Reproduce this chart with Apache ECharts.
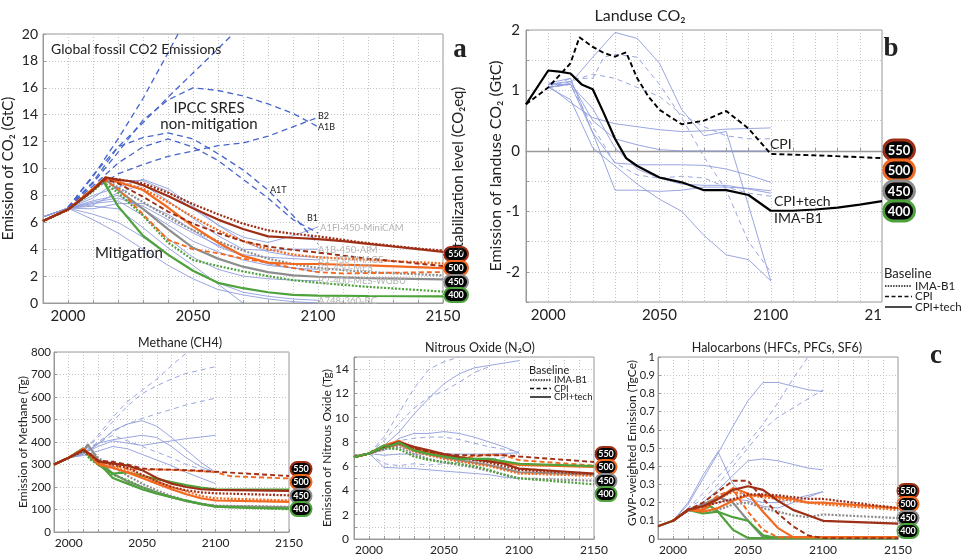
<!DOCTYPE html>
<html><head><meta charset="utf-8">
<script src="https://cdn.jsdelivr.net/npm/echarts@6/dist/echarts.min.js"></script>
<style>html,body{margin:0;padding:0;background:#fff}#c{width:961px;height:556px}</style>
</head><body><div id="c"></div>
<script>
// ---------- tick labels ----------
const xTickLabels = [2000, 2050, 2100, 2150];
const bYTickLabels = [-2, -1, 0, 1, 2];
const nYTickLabels = [0, 2, 4, 6, 8, 10, 12, 14];
const stabLevels = ['550', '500', '450', '400'];
const legendNames = ['IMA-B1', 'CPI', 'CPI+tech'];

// ---------- panel a: fossil CO2 (GtC) ----------
const aA1FI = [[2000,7.1],[2010,9.4],[2020,12.2],[2030,15.2],[2040,18.6],[2044,20]];
const aA2 = [[2000,7.1],[2010,9.0],[2020,11.6],[2030,13.4],[2040,15.3],[2050,17.1],[2060,18.9],[2066,20]];
const aA1B = [[2000,7.1],[2010,8.9],[2020,11.2],[2030,13.6],[2040,15.1],[2050,16.0],[2060,15.8],[2070,15.4],[2080,14.8],[2090,14.1],[2100,13.1]];
const aB2 = [[2000,7.1],[2010,8.4],[2020,9.6],[2030,10.3],[2040,10.9],[2050,11.3],[2060,11.7],[2070,11.9],[2080,12.4],[2090,13.1],[2100,13.8]];
const aA1T = [[2000,7.1],[2010,9.5],[2020,11.6],[2030,12.3],[2040,12.65],[2050,12.2],[2060,11.1],[2070,9.9],[2080,8.4],[2090,6.5],[2100,4.4]];
const aB1 = [[2000,7.1],[2010,8.7],[2020,10.4],[2030,11.6],[2040,12.2],[2050,11.6],[2060,10.6],[2070,9.2],[2080,7.8],[2090,6.2],[2100,5.2]];
const aM1 = [[1990,6.4],[2000,7.05],[2010,7.8],[2020,9.1],[2030,9.1],[2040,8.3],[2050,7.0],[2060,5.8],[2070,4.9],[2080,4.5],[2090,5.0],[2100,5.65]];
const aM2 = [[1990,6.4],[2000,7.05],[2010,7.3],[2020,8.2],[2030,8.8],[2040,7.6],[2050,6.3],[2060,5.0],[2070,4.0],[2080,3.9],[2090,4.0],[2100,4.0]];
const aM3 = [[1990,6.4],[2000,7.05],[2010,7.5],[2020,7.8],[2030,7.2],[2040,6.2],[2050,5.2],[2060,4.3],[2070,3.6],[2080,3.4],[2090,3.3],[2100,3.2]];
const aM4 = [[1990,6.4],[2000,7.05],[2010,7.6],[2020,8.0],[2030,7.0],[2040,5.8],[2050,4.6],[2060,3.8],[2070,3.2],[2080,2.8],[2090,2.6],[2100,2.5]];
const aM5 = [[1990,6.4],[2000,7.05],[2010,7.4],[2020,7.6],[2030,6.5],[2040,4.8],[2050,3.4],[2060,2.5],[2070,2.0],[2080,1.8],[2090,1.7],[2100,1.65]];
const aM6 = [[1990,6.4],[2000,7.05],[2010,6.2],[2020,5.2],[2030,4.0],[2040,2.8],[2050,1.8],[2060,1.0],[2070,0.6],[2080,0.3],[2090,0.1],[2100,0.0]];
const aM7 = [[1990,6.4],[2000,7.05],[2010,7.2],[2020,7.0],[2030,5.6],[2040,4.1],[2050,2.8],[2060,1.4],[2070,0.0]];
const aM8 = [[1990,6.4],[2000,7.05],[2010,6.6],[2020,6.0],[2030,4.9],[2040,3.6],[2050,2.4],[2060,1.5],[2070,0.8],[2080,0.5],[2090,0.3],[2100,0.2]];
const aM9 = [[1990,6.4],[2000,7.05],[2010,8.0],[2020,8.6],[2030,9.2],[2040,8.5],[2050,7.2],[2060,5.8],[2070,4.6],[2080,3.8],[2090,3.5],[2100,3.4]];
const aM10 = [[1990,6.4],[2000,7.05],[2010,7.0],[2020,7.4],[2030,7.4],[2040,6.6],[2050,5.4],[2060,4.2],[2070,3.5],[2080,2.9],[2090,2.6],[2100,2.3]];
const a550s = [[1990,6.1],[2000,6.95],[2010,8.4],[2015,9.35],[2020,9.15],[2025,9.05],[2030,8.75],[2040,7.95],[2050,7.05],[2060,6.2],[2070,5.5],[2080,4.95],[2090,4.85],[2100,4.75],[2110,4.6],[2120,4.4],[2130,4.2],[2140,4.0],[2150,3.8]];
const a550d = [[1990,6.1],[2000,6.95],[2010,8.4],[2015,9.3],[2020,9.2],[2030,8.9],[2040,8.2],[2050,7.35],[2060,6.6],[2070,5.9],[2080,5.4],[2090,5.15],[2100,4.95],[2110,4.7],[2120,4.45],[2130,4.25],[2140,4.05],[2150,3.9]];
const a550k = [[1990,6.1],[2000,6.95],[2010,8.4],[2015,9.2],[2020,8.9],[2030,7.9],[2040,6.8],[2050,5.9],[2060,5.2],[2070,4.6],[2080,4.2],[2090,3.95],[2100,3.75],[2120,3.3],[2150,2.75]];
const a500s = [[1990,6.1],[2000,6.95],[2010,8.5],[2015,9.3],[2020,9.0],[2030,8.4],[2040,7.1],[2050,5.7],[2060,4.5],[2070,3.5],[2080,3.0],[2090,2.9],[2100,2.9],[2120,2.8],[2150,2.6]];
const a500d = [[1990,6.1],[2000,6.95],[2010,8.5],[2015,9.2],[2020,9.0],[2030,8.5],[2040,7.5],[2050,6.4],[2060,5.4],[2070,4.6],[2080,4.0],[2090,3.6],[2100,3.4],[2120,3.2],[2150,2.95]];
const a500k = [[1990,6.1],[2000,6.95],[2010,8.5],[2015,9.1],[2020,8.5],[2030,6.6],[2040,4.7],[2050,4.0],[2060,3.7],[2070,3.3],[2080,3.0],[2090,2.6],[2100,2.3],[2110,2.2],[2150,2.3]];
const a450s = [[1990,6.1],[2000,6.95],[2010,8.4],[2015,9.2],[2020,8.4],[2030,7.0],[2040,5.5],[2050,4.1],[2060,3.3],[2070,2.7],[2080,2.3],[2090,2.05],[2100,1.95],[2120,1.85],[2150,1.75]];
const a450d = [[1990,6.1],[2000,6.95],[2010,8.4],[2015,9.1],[2020,8.6],[2030,7.5],[2040,6.4],[2050,5.4],[2060,4.6],[2070,3.9],[2080,3.3],[2090,2.9],[2100,2.6],[2120,2.3],[2150,2.05]];
const a400s = [[1990,6.1],[2000,6.95],[2010,8.4],[2014,9.1],[2020,7.2],[2030,5.0],[2040,3.6],[2050,2.4],[2060,1.5],[2070,1.1],[2080,0.8],[2090,0.6],[2100,0.55],[2120,0.52],[2150,0.5]];
const a400d = [[1990,6.1],[2000,6.95],[2010,8.3],[2014,9.0],[2020,8.2],[2030,6.5],[2040,4.5],[2050,3.2],[2060,2.75],[2070,2.35],[2080,2.0],[2090,1.7],[2100,1.5],[2120,1.2],[2150,0.85]];

// ---------- panel b: landuse CO2 (GtC) ----------
const bL1 = [[2000,1.05],[2010,1.12],[2020,1.55],[2030,1.96],[2040,1.86],[2050,1.45],[2060,0.68],[2070,0.25],[2080,0.32],[2090,-0.9],[2100,-2.15]];
const bL2 = [[2000,1.05],[2010,0.85],[2020,0.05],[2030,-0.25],[2040,-0.55],[2050,-0.8],[2060,-1.0],[2070,-1.4],[2080,-1.72],[2090,-1.8],[2100,-2.15]];
const bL3 = [[2000,1.08],[2010,0.8],[2020,0.55],[2030,0.45],[2040,0.4],[2050,0.35],[2060,0.32],[2070,0.33],[2080,0.36],[2090,0.37],[2100,0.38]];
const bL4 = [[2000,1.1],[2010,1.15],[2020,0.5],[2030,0.2],[2040,0.1],[2050,0.02],[2060,0.0],[2070,0.0],[2080,0.0],[2090,0.0],[2100,0.0]];
const bL5 = [[2000,1.1],[2010,1.1],[2020,0.3],[2030,-0.2],[2040,-0.23],[2050,-0.23],[2060,-0.23],[2070,-0.24],[2080,-0.3],[2090,-0.4],[2100,-0.52]];
const bL6 = [[2000,1.12],[2010,1.2],[2020,0.3],[2030,-0.65],[2040,-0.65],[2050,-0.67],[2060,-0.65],[2070,-0.6],[2080,-0.6],[2090,-0.62],[2100,-0.66]];
const bL7 = [[2000,1.05],[2010,1.1],[2020,0.7],[2030,0.05],[2040,-0.3],[2050,-0.45],[2060,-0.55],[2070,-0.57],[2080,-0.57],[2090,-0.63],[2100,-0.7]];
const bD1 = [[2000,1.05],[2010,1.2],[2020,1.2],[2025,1.55],[2030,1.6],[2040,1.55],[2050,1.1],[2060,0.55],[2070,-0.1],[2080,-0.65],[2090,-1.5],[2100,-2.0]];
const bD2 = [[2000,1.05],[2010,1.15],[2020,1.27],[2030,1.2],[2040,1.05],[2050,0.9],[2060,0.6],[2070,0.4],[2080,0.25],[2090,0.2],[2100,0.2]];
const bD3 = [[2000,1.05],[2010,1.1],[2020,0.4],[2030,-0.2],[2040,-0.4],[2050,-0.45],[2060,-0.42],[2070,-0.45],[2080,-0.6],[2090,-0.7],[2100,-0.75]];
const bTech = [[1990,0.77],[2000,1.33],[2005,1.31],[2010,1.28],[2015,1.1],[2020,1.02],[2025,0.62],[2030,0.2],[2035,-0.12],[2040,-0.25],[2050,-0.44],[2060,-0.52],[2070,-0.65],[2080,-0.65],[2090,-0.73],[2100,-0.99],[2110,-0.99],[2120,-0.97],[2130,-0.94],[2140,-0.89],[2150,-0.83]];
const bCPI = [[1990,0.77],[2000,1.05],[2005,1.25],[2010,1.45],[2014,1.88],[2020,1.72],[2025,1.62],[2030,1.56],[2035,1.63],[2040,1.2],[2045,0.9],[2050,0.68],[2060,0.44],[2070,0.5],[2080,0.66],[2090,0.37],[2100,-0.05],[2125,-0.08],[2150,-0.12]];

// ---------- methane (Tg) ----------
const mB1 = [[2000,330],[2010,360],[2020,430],[2030,510],[2040,580],[2050,630],[2060,680],[2070,740],[2080,795]];
const mB2 = [[2000,330],[2010,360],[2020,420],[2030,490],[2040,560],[2050,615],[2060,650],[2070,680],[2080,705],[2090,720],[2100,735]];
const mB3 = [[2000,330],[2010,355],[2020,400],[2030,445],[2040,480],[2050,505],[2060,525],[2070,545],[2080,565],[2090,580],[2100,595]];
const mB4 = [[2000,330],[2010,345],[2020,390],[2030,450],[2040,480],[2050,495],[2060,470],[2070,420],[2080,365],[2090,310],[2100,265]];
const mB5 = [[2000,330],[2010,350],[2020,380],[2030,405],[2040,395],[2050,385],[2060,395],[2070,405],[2080,415],[2090,422],[2100,430]];
const mB6 = [[2000,330],[2010,345],[2020,395],[2030,410],[2040,420],[2050,430],[2060,420],[2070,380],[2080,330],[2090,290],[2100,265]];
const mB7 = [[2000,330],[2010,350],[2020,395],[2030,430],[2040,405],[2050,380],[2060,355],[2070,330],[2080,300],[2090,280],[2100,260]];
const mB8 = [[2000,330],[2010,340],[2020,360],[2030,380],[2040,370],[2050,345],[2060,320],[2070,295],[2080,265],[2090,240],[2100,215]];
const m550k = [[1990,300],[2000,330],[2010,365],[2015,345],[2020,318],[2030,312],[2040,300],[2050,282],[2060,278],[2070,277],[2080,275],[2090,272],[2100,268],[2120,260],[2150,249]];
const m550s = [[1990,300],[2000,330],[2010,365],[2015,345],[2020,315],[2030,305],[2040,295],[2050,275],[2060,240],[2070,215],[2080,200],[2090,190],[2100,187],[2150,183]];
const m550d = [[1990,300],[2000,330],[2010,360],[2015,340],[2020,315],[2030,300],[2040,285],[2050,255],[2060,225],[2070,200],[2080,185],[2090,176],[2100,172],[2150,163]];
const m500k = [[1990,300],[2000,330],[2010,368],[2015,340],[2020,305],[2030,300],[2040,280],[2050,275],[2060,278],[2070,276],[2080,273],[2090,270],[2100,266],[2110,248],[2150,238]];
const m500s = [[1990,300],[2000,330],[2010,370],[2015,340],[2020,300],[2030,285],[2040,265],[2050,240],[2060,215],[2070,190],[2080,168],[2090,150],[2100,140],[2150,134]];
const m500d = [[1990,300],[2000,330],[2010,365],[2020,305],[2030,290],[2040,270],[2050,250],[2060,225],[2070,200],[2080,180],[2090,160],[2100,150],[2150,140]];
const m450s = [[1990,300],[2000,330],[2010,360],[2013,390],[2020,320],[2030,260],[2040,225],[2050,200],[2060,175],[2070,155],[2080,138],[2090,125],[2100,115],[2150,110]];
const m450d = [[1990,300],[2000,330],[2010,360],[2013,385],[2020,330],[2030,290],[2040,250],[2050,215],[2060,185],[2070,160],[2080,140],[2090,125],[2100,117],[2150,112]];
const m400s = [[1990,300],[2000,330],[2005,350],[2010,370],[2015,330],[2020,310],[2030,240],[2040,215],[2050,190],[2060,170],[2070,155],[2080,138],[2090,125],[2100,113],[2120,108],[2150,104]];
const m400s2 = [[1990,300],[2000,330],[2010,372],[2015,330],[2020,300],[2030,260],[2040,265],[2050,250],[2060,235],[2070,222],[2080,208],[2090,197],[2100,190],[2150,189]];
const m400d = [[1990,300],[2000,330],[2010,360],[2015,320],[2020,300],[2030,255],[2040,230],[2050,200],[2060,175],[2070,155],[2080,140],[2090,125],[2100,112],[2150,101]];

// ---------- nitrous oxide (Tg) ----------
const nB1 = [[2000,7.05],[2010,7.7],[2020,8.8],[2030,10.3],[2040,11.6],[2050,12.8],[2060,13.6],[2070,14.1],[2080,14.3],[2090,14.5],[2100,14.7]];
const nB2 = [[2000,7.05],[2010,8.4],[2020,10.4],[2030,12.4],[2040,14.0],[2050,14.6],[2060,15.0]];
const nB3 = [[2000,7.05],[2010,8.1],[2020,9.5],[2030,10.8],[2040,11.7],[2050,12.2],[2060,12.9],[2070,13.7],[2080,14.2]];
const nB4 = [[2000,7.05],[2010,7.3],[2020,8.3],[2030,8.7],[2040,8.7],[2050,8.85],[2060,8.7],[2070,8.4],[2080,8.0],[2090,7.6],[2100,7.1]];
const nB5 = [[2000,7.05],[2010,7.6],[2020,8.1],[2030,8.3],[2040,8.4],[2050,8.4],[2060,8.2],[2070,7.9],[2080,7.6],[2090,7.4],[2100,7.2]];
const nB6 = [[2000,7.05],[2010,6.9],[2020,7.0],[2040,7.0],[2060,7.0],[2080,7.0],[2100,7.1]];
const nB7 = [[2000,7.05],[2010,6.2],[2020,6.05],[2030,6.2],[2040,6.1],[2050,6.2],[2060,6.3],[2070,6.5],[2080,6.6],[2090,6.7],[2100,6.8]];
const nB8 = [[2000,7.05],[2010,5.9],[2020,5.85],[2030,5.8],[2040,5.7],[2050,5.6],[2060,5.5],[2070,5.4],[2080,5.3],[2090,5.1],[2100,5.0]];
const n550k = [[1990,6.75],[2000,7.05],[2010,7.6],[2020,7.9],[2030,7.5],[2040,7.2],[2050,7.0],[2060,6.9],[2070,6.9],[2080,6.9],[2090,6.9],[2100,6.8],[2150,6.35]];
const n550s = [[1990,6.75],[2000,7.05],[2010,7.6],[2020,8.0],[2030,7.6],[2040,7.3],[2050,7.0],[2060,6.75],[2070,6.55],[2080,6.4],[2090,6.2],[2100,5.8],[2150,5.4]];
const n550d = [[1990,6.75],[2000,7.05],[2010,7.5],[2020,7.9],[2030,7.5],[2040,7.2],[2050,6.9],[2060,6.7],[2070,6.5],[2080,6.3],[2090,6.0],[2100,5.7],[2150,5.35]];
const n500k = [[1990,6.75],[2000,7.05],[2010,7.6],[2020,8.0],[2030,7.3],[2040,7.0],[2050,6.8],[2060,6.7],[2070,6.8],[2080,6.95],[2090,6.9],[2100,6.5],[2150,6.05]];
const n500s = [[1990,6.75],[2000,7.05],[2010,7.7],[2020,8.1],[2030,7.4],[2040,7.1],[2050,6.85],[2060,6.7],[2070,6.6],[2080,6.5],[2090,6.3],[2100,6.1],[2150,5.95]];
const n500d = [[1990,6.75],[2000,7.05],[2010,7.5],[2020,7.8],[2030,7.2],[2040,6.9],[2050,6.6],[2060,6.4],[2070,6.2],[2080,6.0],[2090,5.7],[2100,5.4],[2150,5.2]];
const n450s = [[1990,6.75],[2000,7.05],[2010,7.5],[2020,7.8],[2030,7.3],[2040,7.0],[2050,6.7],[2060,6.5],[2070,6.3],[2080,6.1],[2090,5.8],[2100,5.5],[2150,5.3]];
const n450d = [[1990,6.75],[2000,7.05],[2010,7.4],[2020,7.6],[2030,7.0],[2040,6.6],[2050,6.3],[2060,6.1],[2070,5.9],[2080,5.6],[2090,5.3],[2100,5.0],[2150,4.8]];
const n400s = [[1990,6.75],[2000,7.05],[2010,7.7],[2015,7.7],[2020,7.95],[2030,7.3],[2040,7.0],[2050,6.8],[2060,6.6],[2070,6.6],[2080,6.6],[2090,6.4],[2100,6.2],[2150,6.0]];
const n400d = [[1990,6.75],[2000,7.05],[2010,7.5],[2020,7.4],[2030,6.8],[2040,6.5],[2050,6.35],[2060,6.2],[2070,6.0],[2080,5.7],[2090,5.3],[2100,5.0],[2150,4.5]];

// ---------- halocarbons (TgCe) ----------
const hB1 = [[2000,0.1],[2010,0.19],[2020,0.33],[2030,0.47],[2040,0.62],[2050,0.76],[2060,0.86],[2070,0.86],[2080,0.84],[2090,0.82],[2100,0.81]];
const hB2 = [[2000,0.1],[2010,0.17],[2020,0.25],[2030,0.34],[2040,0.43],[2050,0.53],[2060,0.63],[2070,0.75],[2080,0.88],[2090,1.0]];
const hB3 = [[2000,0.1],[2010,0.17],[2020,0.22],[2030,0.3],[2040,0.4],[2050,0.5],[2060,0.6],[2070,0.67],[2080,0.72],[2090,0.77],[2100,0.82]];
const hB4 = [[2000,0.1],[2010,0.2],[2020,0.35],[2030,0.48],[2040,0.3],[2050,0.22],[2060,0.2],[2070,0.2],[2080,0.22],[2090,0.24],[2100,0.26]];
const hB5 = [[2000,0.1],[2010,0.15],[2020,0.2],[2030,0.27],[2040,0.35],[2050,0.43],[2060,0.44],[2070,0.43],[2080,0.41],[2090,0.39],[2100,0.38]];
const hB6 = [[2000,0.1],[2010,0.15],[2020,0.18],[2030,0.2],[2040,0.22],[2050,0.21],[2060,0.18],[2070,0.17],[2080,0.2],[2090,0.23],[2100,0.26]];
const h550s = [[1990,0.07],[2000,0.1],[2010,0.16],[2020,0.18],[2030,0.22],[2040,0.27],[2050,0.29],[2060,0.27],[2070,0.21],[2080,0.16],[2090,0.13],[2100,0.1],[2150,0.085]];
const h550k = [[2000,0.1],[2010,0.16],[2020,0.2],[2030,0.26],[2040,0.32],[2050,0.32],[2060,0.22],[2070,0.14],[2080,0.07],[2090,0.02],[2100,0.005],[2150,0.005]];
const h550d = [[2000,0.1],[2010,0.16],[2020,0.18],[2030,0.2],[2040,0.22],[2050,0.245],[2060,0.245],[2070,0.24],[2080,0.23],[2090,0.22],[2100,0.22],[2120,0.2],[2150,0.17]];
const h500s = [[2000,0.1],[2010,0.16],[2020,0.16],[2030,0.22],[2040,0.28],[2050,0.25],[2060,0.15],[2070,0.06],[2080,0.01],[2150,0.01]];
const h500s2 = [[2000,0.1],[2010,0.16],[2020,0.15],[2030,0.17],[2040,0.21],[2050,0.24],[2060,0.24],[2070,0.23],[2080,0.22],[2090,0.2],[2100,0.2],[2150,0.17]];
const h500k = [[2000,0.1],[2010,0.16],[2020,0.17],[2030,0.24],[2040,0.27],[2050,0.15],[2060,0.05],[2070,0.01],[2150,0.01]];
const h500d = [[2000,0.1],[2010,0.16],[2020,0.16],[2030,0.22],[2040,0.26],[2050,0.24],[2060,0.23],[2080,0.21],[2100,0.19],[2150,0.16]];
const h450s = [[2000,0.1],[2010,0.16],[2020,0.19],[2030,0.23],[2040,0.2],[2050,0.1],[2060,0.01],[2150,0.01]];
const h450d = [[2000,0.1],[2010,0.16],[2020,0.15],[2030,0.16],[2040,0.19],[2050,0.2],[2060,0.17],[2070,0.15],[2080,0.13],[2090,0.12],[2100,0.135],[2150,0.115]];
const h400s = [[1990,0.07],[2000,0.1],[2010,0.16],[2020,0.16],[2025,0.18],[2030,0.15],[2040,0.05],[2050,0.005],[2150,0.005]];
const h400s2 = [[2000,0.1],[2010,0.16],[2020,0.14],[2030,0.15],[2040,0.12],[2050,0.1],[2060,0.02],[2070,0.005],[2150,0.005]];

// ---------- styles ----------
const FONT = 'Lato, "Noto Sans", sans-serif';
const BLUE = '#8e9cdb', SRES = '#4766cb';
const COL = {'550': '#9e2f16', '500': '#f26a21', '450': '#8d8d8d', '400': '#4ea23b'};
const STY = {
  thin:  {w: 0.9, t: 'solid', z: 2},
  thinD: {w: 0.9, t: [5, 4], z: 2},
  sres:  {w: 1.3, t: [6, 4], z: 3},
  s:     {w: 2.2, t: 'solid', z: 5},
  d:     {w: 2.2, t: [2, 1.6], z: 5},
  k:     {w: 1.9, t: [5, 3], z: 5}
};
const series = [];
function add(g, data, color, st) {
  const s = STY[st];
  series.push({type: 'line', xAxisIndex: g, yAxisIndex: g, data, symbol: 'none', silent: true,
    z: s.z, lineStyle: {color, width: s.w, type: s.t}, emphasis: {disabled: true}});
}
// panel a
[aA1FI, aA2, aA1B, aB2, aA1T, aB1].forEach(d => add(0, d, SRES, 'sres'));
[aM1, aM2, aM3, aM4, aM5, aM6, aM7, aM8, aM9, aM10].forEach(d => add(0, d, BLUE, 'thin'));
add(0, a450d, COL['450'], 'd'); add(0, a450s, COL['450'], 's');
add(0, a400d, COL['400'], 'd'); add(0, a400s, COL['400'], 's');
add(0, a500k, COL['500'], 'k'); add(0, a500d, COL['500'], 'd'); add(0, a500s, COL['500'], 's');
add(0, a550k, COL['550'], 'k'); add(0, a550d, COL['550'], 'd'); add(0, a550s, COL['550'], 's');
// panel b
[bL1, bL2, bL3, bL4, bL5, bL6, bL7].forEach(d => add(1, d, BLUE, 'thin'));
[bD1, bD2, bD3].forEach(d => add(1, d, BLUE, 'thinD'));
add(1, bCPI, '#000', 'k');
add(1, bTech, '#000', 's');
series[series.length - 1].markLine = {silent: true, symbol: 'none', label: {show: false},
  lineStyle: {color: '#999', type: 'solid', width: 1.3}, data: [{yAxis: 0}], z: 1};
// methane
[mB4, mB5, mB6, mB8].forEach(d => add(2, d, BLUE, 'thin'));
[mB1, mB2, mB3, mB7].forEach(d => add(2, d, BLUE, 'thinD'));
add(2, m450d, COL['450'], 'd'); add(2, m450s, COL['450'], 's');
add(2, m400d, COL['400'], 'd'); add(2, m400s, COL['400'], 's'); add(2, m400s2, COL['400'], 's');
add(2, m500k, COL['500'], 'k'); add(2, m500d, COL['500'], 'd'); add(2, m500s, COL['500'], 's');
add(2, m550k, COL['550'], 'k'); add(2, m550d, COL['550'], 'd'); add(2, m550s, COL['550'], 's');
// nitrous
[nB1, nB4, nB6, nB8].forEach(d => add(3, d, BLUE, 'thin'));
[nB2, nB3, nB5, nB7].forEach(d => add(3, d, BLUE, 'thinD'));
add(3, n450d, COL['450'], 'd'); add(3, n450s, COL['450'], 's');
add(3, n500k, COL['500'], 'k'); add(3, n500d, COL['500'], 'd'); add(3, n500s, COL['500'], 's');
add(3, n550k, COL['550'], 'k'); add(3, n550d, COL['550'], 'd'); add(3, n550s, COL['550'], 's');
add(3, n400d, COL['400'], 'd'); add(3, n400s, COL['400'], 's');
// halocarbons
[hB1, hB4, hB5, hB6].forEach(d => add(4, d, BLUE, 'thin'));
[hB2, hB3].forEach(d => add(4, d, BLUE, 'thinD'));
add(4, h450d, COL['450'], 'd'); add(4, h450s, COL['450'], 's');
add(4, h400s, COL['400'], 's'); add(4, h400s2, COL['400'], 's');
add(4, h500k, COL['500'], 'k'); add(4, h500d, COL['500'], 'd'); add(4, h500s, COL['500'], 's'); add(4, h500s2, COL['500'], 's');
add(4, h550k, COL['550'], 'k'); add(4, h550d, COL['550'], 'd'); add(4, h550s, COL['550'], 's');

// ---------- axes ----------
const grids = [
  {left: 43, top: 34, width: 400, height: 269},
  {left: 526, top: 30, width: 356, height: 272},
  {left: 54, top: 352, width: 235, height: 180},
  {left: 354, top: 357, width: 240, height: 184},
  {left: 658, top: 357, width: 240, height: 184}
].map(g => Object.assign({show: true, borderColor: '#9a9a9a', borderWidth: 1, backgroundColor: '#fff'}, g));

const gridLine = {show: true, lineStyle: {color: '#c4c4c4', type: [1, 2], width: 1}};
function xAx(g, fs, margin) {
  return {gridIndex: g, type: 'value', min: 1990, max: 2150, interval: 10,
    axisLine: {lineStyle: {color: '#9a9a9a'}}, axisTick: {inside: true, length: 3, lineStyle: {color: '#9a9a9a'}},
    splitLine: gridLine,
    axisLabel: {color: '#222', fontSize: fs, fontFamily: FONT, margin,
      formatter: v => xTickLabels.includes(v) ? String(v) : ''}};
}
function yAx(g, o) {
  return Object.assign({gridIndex: g, type: 'value',
    axisLine: {show: true, lineStyle: {color: '#9a9a9a'}}, axisTick: {inside: true, length: 3, lineStyle: {color: '#9a9a9a'}},
    splitLine: gridLine,
    nameLocation: 'middle', nameMoveOverlap: false,
    nameTextStyle: {color: '#222', fontFamily: FONT, fontSize: o.nfs}}, o.ax, {
    axisLabel: Object.assign({color: '#222', fontSize: o.fs, fontFamily: FONT, margin: o.m}, o.lab || {})});
}
const xAxis = [xAx(0, 15, 6), xAx(1, 15, 6), xAx(2, 12, 5), xAx(3, 12, 5), xAx(4, 12, 5)];
const yAxis = [
  yAx(0, {ax: {min: 0, max: 20, interval: 2, name: 'Emission of CO\u2082 (GtC)', nameGap: 27}, fs: 14, nfs: 15, m: 5}),
  yAx(1, {ax: {min: -2.5, max: 2, interval: 0.5, name: 'Emission of landuse CO\u2082 (GtC)', nameGap: 22}, fs: 15, nfs: 16, m: 6,
    lab: {formatter: v => bYTickLabels.includes(v) ? String(v) : ''}}),
  yAx(2, {ax: {min: 0, max: 800, interval: 100, name: 'Emission of Methane (Tg)', nameGap: 25}, fs: 11.5, nfs: 12, m: 3}),
  yAx(3, {ax: {min: 0, max: 15, interval: 1, name: 'Emission of Nitrous Oxide (Tg)', nameGap: 21}, fs: 12, nfs: 12, m: 5,
    lab: {formatter: v => nYTickLabels.includes(v) ? String(v) : ''}}),
  yAx(4, {ax: {min: 0, max: 1, interval: 0.1, name: '', nameGap: 20}, fs: 11, nfs: 12, m: 3,
    lab: {formatter: v => String(+v.toFixed(1))}})
];

// ---------- annotations ----------
function txt(x, y, text, o) {
  o = o || {};
  return {type: 'text', x, y, rotation: o.rot || 0, z: 50, silent: true,
    style: {text, fill: o.c || '#222', font: (o.b ? 'bold ' : '') + (o.fs || 12) + 'px ' + (o.ff || FONT),
      align: o.al || 'left', verticalAlign: 'middle', textAlign: o.al || 'left', textVerticalAlign: 'middle'}};
}
function badge(cx, cy, w, h, color, label, fs) {
  return {type: 'group', z: 60, silent: true, children: [
    {type: 'rect', shape: {x: cx - w / 2, y: cy - h / 2, width: w, height: h, r: h / 2},
      style: {fill: '#050505', stroke: color, lineWidth: Math.max(2, h / 7)}},
    {type: 'text', x: cx, y: cy + 0.5, style: {text: label, fill: '#fff', font: 'bold ' + fs + 'px ' + FONT,
      align: 'center', verticalAlign: 'middle', textAlign: 'center', textVerticalAlign: 'middle'}}]};
}
function badges(cx, ys, w, h, fs) {
  return stabLevels.map((lv, i) => badge(cx, ys[i], w, h, COL[lv], lv, fs));
}
function legend(x, y0, dy, lw, fs, title) {
  const out = [txt(x - 1, y0 - dy * 1.15, title, {fs: fs + 1.5})];
  const types = [[1.5, 1.2], [4, 2.5], 'solid'];
  legendNames.forEach((n, i) => {
    const y = y0 + i * dy;
    out.push({type: 'line', z: 60, silent: true, shape: {x1: x, y1: y, x2: x + lw, y2: y},
      style: {stroke: '#111', lineWidth: 1.5, lineDash: types[i] === 'solid' ? null : types[i]}});
    out.push(txt(x + lw + 3, y, n, {fs}));
  });
  return out;
}
const greyLab = {fs: 9.5, c: '#b4b4b4'};
const graphic = [
  // panel a
  txt(51, 49, 'Global fossil CO2 Emissions', {fs: 14}),
  txt(209, 108, 'IPCC SRES', {fs: 15, al: 'center'}),
  txt(209, 124, 'non-mitigation', {fs: 15, al: 'center'}),
  txt(129, 253, 'Mitigation', {fs: 15, al: 'center'}),
  txt(318, 116, 'B2', {fs: 9}), txt(318, 127, 'A1B', {fs: 9}),
  txt(270, 190, 'A1T', {fs: 9}), txt(307, 218, 'B1', {fs: 9}),
  txt(320, 228, 'A1FI-450-MiniCAM', greyLab), txt(318, 250, 'A1B-450-AIM', greyLab),
  txt(318, 260, 'B1-450-IMAGE', greyLab), txt(318, 268, 'B1-450-MES', greyLab),
  txt(318, 281, 'B2-400-MES-WGBU', greyLab), txt(318, 301, 'A748-360-BC', greyLab),
  txt(460, 50, 'a', {fs: 27, b: true, ff: '"Liberation Serif", "DejaVu Serif", serif', al: 'center'}),
  txt(458, 171, 'Stabilization level (CO\u2082eq)', {fs: 15, rot: Math.PI / 2, al: 'center'}),
  ...badges(456, [254, 268, 282, 295], 24, 14, 9),
  // panel b
  txt(640, 16, 'Landuse CO\u2082', {fs: 16, al: 'center'}),
  txt(770, 144, 'CPI', {fs: 14}), txt(774, 201, 'CPI+tech', {fs: 14}), txt(774, 218, 'IMA-B1', {fs: 14}),
  txt(891, 49, 'b', {fs: 27, b: true, ff: '"Liberation Serif", "DejaVu Serif", serif', al: 'center'}),
  ...badges(899, [150, 170, 191, 211], 31, 20, 13),
  {type: 'rect', z: 40, silent: true, shape: {x: 883, y: 252, width: 78, height: 70}, style: {fill: '#fff'}},
  ...legend(885, 286, 10.5, 27, 11.5, 'Baseline'),
  // bottom panels
  txt(180, 343, 'Methane (CH4)', {fs: 12.5, al: 'center'}),
  txt(480, 348, 'Nitrous Oxide (N\u2082O)', {fs: 12.5, al: 'center'}),
  txt(777, 348, 'Halocarbons (HFCs, PFCs, SF6)', {fs: 12.5, al: 'center'}),
  txt(632, 443, 'GWP-weighted Emission (TgCe)', {fs: 12, rot: Math.PI / 2, al: 'center'}),
  txt(936, 356, 'c', {fs: 27, b: true, ff: '"Liberation Serif", "DejaVu Serif", serif', al: 'center'}),
  ...legend(530, 380, 8.5, 21, 9.5, 'Baseline'),
  ...badges(301, [469, 482, 496, 509], 21, 14, 9),
  ...badges(606, [454, 467, 481, 494], 21, 14, 9),
  ...badges(908, [491, 504, 518, 531], 21, 14, 9)
];

const chart = echarts.init(document.getElementById('c'), null, {renderer: 'canvas'});
chart.setOption({animation: false, backgroundColor: '#fff', grid: grids, xAxis, yAxis, series, graphic});
</script></body></html>
